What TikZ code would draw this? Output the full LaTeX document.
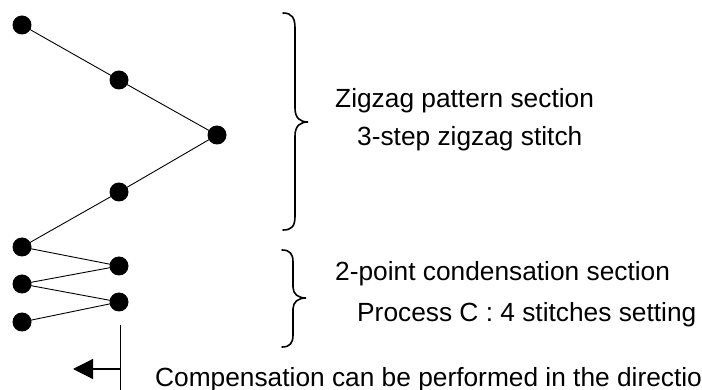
\documentclass[tikz,border=0pt]{standalone}
\usepackage{fontspec}
\setmainfont{Liberation Sans}
\usetikzlibrary{arrows.meta}
\begin{document}
\begin{tikzpicture}[x=1pt,y=-1pt,
  stitch/.style={circle,fill=black,inner sep=0pt,minimum size=19pt},
  thread/.style={line width=0.9pt},
  brace/.style={line width=1.6pt,line cap=round},
  lbl/.style={anchor=base west,inner sep=0pt,font=\fontsize{26.3}{30}\selectfont}]
\useasboundingbox (0,0) rectangle (702,390);
\node[stitch] (d1) at (22,25) {};
\node[stitch] (d2) at (119,80) {};
\node[stitch] (d3) at (217,135) {};
\node[stitch] (d4) at (119,192) {};
\node[stitch] (d5) at (22,247) {};
\node[stitch] (d6) at (119,266) {};
\node[stitch] (d7) at (22,284) {};
\node[stitch] (d8) at (119,302) {};
\node[stitch] (d9) at (22,322) {};
\draw[thread] (d1.center) -- (d2.center) -- (d3.center) -- (d4.center) -- (d5.center) -- (d6.center) -- (d7.center) -- (d8.center) -- (d9.center);
% braces
\draw[brace] (283,13) .. controls (292,13) and (295,18) .. (295,28) -- (295,108) .. controls (295,118) and (300,122) .. (308,122)
  .. controls (300,122) and (295,126) .. (295,136) -- (295,216) .. controls (295,226) and (292,230) .. (283,230);
\draw[brace] (282,250) .. controls (290,250) and (293,254) .. (293,262) -- (293,287) .. controls (293,294) and (298,298) .. (306,298)
  .. controls (298,298) and (293,302) .. (293,309) -- (293,335) .. controls (293,343) and (290,347) .. (282,347);
% labels
\node[lbl] (t1) at (335,108) {Zigzag pattern section};
\node[lbl] (t2) at (357,146) {3-step zigzag stitch};
\node[lbl] (t3) at (335,280) {2-point condensation section};
\node[lbl] (t4) at (357,321) {Process C : 4 stitches setting};
\begin{scope}
\clip (0,0) rectangle (702,390);
\node[lbl] (t5) at (155,386) {Compensation can be performed in the direction};
\end{scope}
% compensation marker
\coordinate (vtop) at (120,325);
\coordinate (vbot) at (120,392);
\coordinate (hstart) at (120,369);
\coordinate (htip) at (73,369);
\draw[line width=1pt] (vtop) -- (vbot);
\draw[line width=1.2pt,-{Triangle[length=20pt,width=20pt]}] (hstart) -- (htip);
\end{tikzpicture}
\end{document}
